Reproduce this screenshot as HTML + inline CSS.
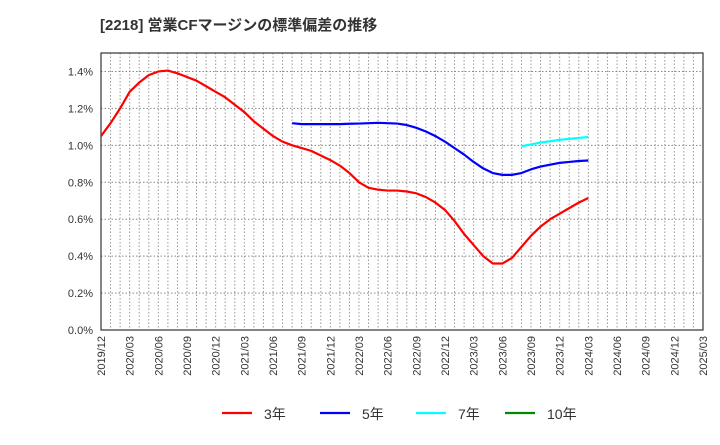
<!DOCTYPE html>
<html><head><meta charset="utf-8"><style>
body{margin:0;background:#fff;font-family:"Liberation Sans","Noto Sans CJK JP",sans-serif}
</style></head><body>
<svg id="c" width="720" height="440" xmlns="http://www.w3.org/2000/svg">
<text x="100" y="30" font-size="15" font-weight="bold" fill="#333" font-family="Liberation Sans, Noto Sans CJK JP, sans-serif">[2218]  営業CFマージンの標準偏差の推移</text>
<g id="grid"></g><g id="axes"></g><g id="series"></g><g id="legend"></g>
</svg>
<script>
const xLabels=["2019/12","2020/03","2020/06","2020/09","2020/12","2021/03","2021/06","2021/09","2021/12","2022/03","2022/06","2022/09","2022/12","2023/03","2023/06","2023/09","2023/12","2024/03","2024/06","2024/09","2024/12","2025/03"];
const yTicks=[0,0.2,0.4,0.6,0.8,1.0,1.2,1.4];
const s3start=0;
const s3=[1.05,1.12,1.20,1.29,1.34,1.38,1.40,1.405,1.39,1.37,1.35,1.32,1.29,1.26,1.22,1.18,1.13,1.09,1.05,1.02,1.00,0.985,0.97,0.945,0.92,0.89,0.85,0.80,0.77,0.76,0.755,0.755,0.75,0.74,0.72,0.69,0.65,0.59,0.52,0.46,0.40,0.36,0.36,0.39,0.45,0.51,0.56,0.60,0.63,0.66,0.69,0.715];
const s5start=20;
const s5=[1.12,1.115,1.115,1.115,1.115,1.115,1.117,1.118,1.12,1.122,1.12,1.118,1.11,1.095,1.075,1.05,1.02,0.985,0.95,0.91,0.875,0.85,0.84,0.84,0.85,0.87,0.885,0.895,0.905,0.91,0.915,0.918];
const s7start=44;
const s7=[0.995,1.005,1.015,1.022,1.03,1.035,1.04,1.045];
const s10=[];
const L=101,R=703,T=53,B=330,YMAX=1.5,NM=63;
const X=m=>L+(R-L)*m/NM, Y=v=>B-(B-T)*v/YMAX;
const NS="http://www.w3.org/2000/svg";
function mk(t,a,p){const e=document.createElementNS(NS,t);for(const k in a)e.setAttribute(k,a[k]);p.appendChild(e);return e;}
const g=document.getElementById('grid'),ax=document.getElementById('axes'),se=document.getElementById('series'),lg=document.getElementById('legend');
for(let m=1;m<NM;m++){const l=mk('line',{x1:X(m),x2:X(m),y1:T,y2:B,stroke:'#999','stroke-dasharray':'1.5,2','stroke-width':1},g);

}
yTicks.forEach(v=>{if(v>0){const l=mk('line',{x1:L,x2:R,y1:Y(v),y2:Y(v),stroke:'#888','stroke-dasharray':'1.5,2','stroke-width':1},g);

}
const t=mk('text',{x:93,y:Y(v)+4,'text-anchor':'end','font-size':11,fill:'#333'},ax);t.textContent=v.toFixed(1)+'%';

});
const fr=mk('rect',{x:L,y:T,width:R-L,height:B-T,fill:'none',stroke:'#333','stroke-width':1.2},ax);


xLabels.forEach((s,i)=>{const x=X(i*3);const t=mk('text',{x:0,y:0,'text-anchor':'end','font-size':11,fill:'#333',transform:`translate(${x+4},${B+6}) rotate(-90)`},ax);t.textContent=s;

});
function line(data,start,color,name){if(!data.length)return;const p=mk('polyline',{points:data.map((v,i)=>X(start+i)+','+Y(v)).join(' '),fill:'none',stroke:color,'stroke-width':2.2,'stroke-linejoin':'round'},se);

}
line(s3,s3start,'#f00','series-3y');
line(s5,s5start,'#00f','series-5y');
line(s7,s7start,'#0ff','series-7y');
line(s10,0,'#080','series-10y');
[["3年","#f00",222],["5年","#00f",320],["7年","#0ff",416],["10年","#080",505]].forEach(([n,c,x])=>{
const l=mk('line',{x1:x,x2:x+30,y1:413,y2:413,stroke:c,'stroke-width':2.2},lg);


const t=mk('text',{x:x+42,y:419,'font-size':14,fill:'#333'},lg);t.textContent=n;

});
</script>
</body></html>
